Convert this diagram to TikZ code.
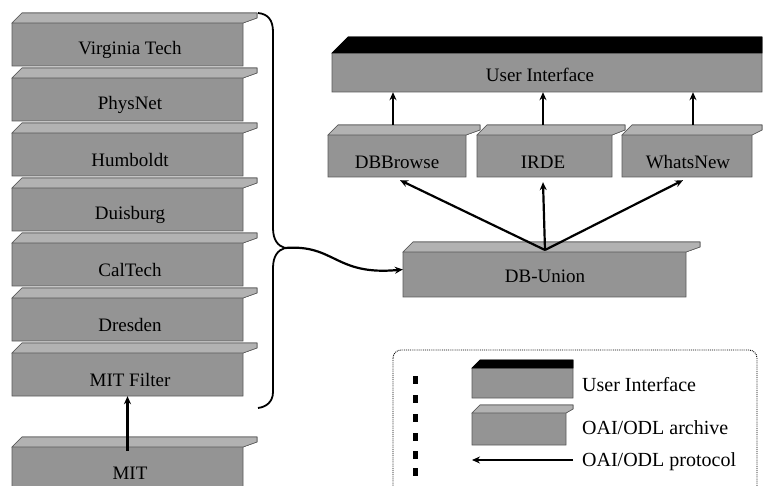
\documentclass[tikz,border=0pt]{standalone}
\usepackage{fontspec}
\setmainfont{Liberation Serif}
\usetikzlibrary{arrows.meta}
\definecolor{slabgray}{gray}{0.58}
\definecolor{lipgray}{gray}{0.70}
\tikzset{
  slabbody/.style={fill=slabgray, draw=black!65, line width=0.6pt},
  graylip/.style={fill=lipgray, draw=black!65, line width=0.6pt},
  blacklip/.style={fill=black, draw=black, line width=0.6pt},
  boxarea/.style={inner sep=0pt, minimum width=#1, draw=none},
  lbl/.style={font=\fontsize{19}{21}\selectfont, inner sep=0pt},
  leglbl/.style={font=\fontsize{20}{22}\selectfont, inner sep=0pt, anchor=west},
  proto/.style={line width=2.2pt, -{Stealth[length=8pt,width=7pt]}},
  bracepath/.style={line width=1.8pt, line join=round},
}
% #1 x0, #2 y0, #3 x1 (body right), #4 x2 (lip right), #5 y1, #6 lip style, #7 depth
\newcommand{\myslab}[7]{%
  \path[slabbody] (#1,#2+#7) -- (#1+#7,#2) -- (#4,#2) -- (#4,#2+#7/2) -- (#3,#2+#7) -- (#3,#5) -- (#1,#5) -- cycle;
  \path[#6] (#1,#2+#7) -- (#1+#7,#2) -- (#4,#2) -- (#4,#2+#7/2) -- (#3,#2+#7) -- cycle;
}
\begin{document}
\begin{tikzpicture}[x=1pt,y=-1pt]
\useasboundingbox (0,0) rectangle (763,486);

% ---------- left stack ----------
\myslab{12}{13}{243}{257}{66}{graylip}{10}
\node[boxarea=231pt, minimum height=53pt] (vt) at (127.5,39.5) {};
\node[lbl] (vt-t) at (130,50) {Virginia Tech};

\myslab{12}{68}{243}{257}{121}{graylip}{10}
\node[boxarea=231pt, minimum height=53pt] (phys) at (127.5,94.5) {};
\node[lbl] (phys-t) at (130,105) {PhysNet};

\myslab{12}{123}{243}{257}{176}{graylip}{10}
\node[boxarea=231pt, minimum height=53pt] (humb) at (127.5,149.5) {};
\node[lbl] (humb-t) at (130,160) {Humboldt};

\myslab{12}{178}{243}{257}{231}{graylip}{10}
\node[boxarea=231pt, minimum height=53pt] (duis) at (127.5,204.5) {};
\node[lbl] (duis-t) at (130,215) {Duisburg};

\myslab{12}{233}{243}{257}{286}{graylip}{10}
\node[boxarea=231pt, minimum height=53pt] (calt) at (127.5,259.5) {};
\node[lbl] (calt-t) at (130,270) {CalTech};

\myslab{12}{288}{243}{257}{341}{graylip}{10}
\node[boxarea=231pt, minimum height=53pt] (dres) at (127.5,314.5) {};
\node[lbl] (dres-t) at (130,325) {Dresden};

\myslab{12}{343}{243}{257}{396}{graylip}{10}
\node[boxarea=231pt, minimum height=53pt] (mitf) at (127.5,369.5) {};
\node[lbl] (mitf-t) at (130,380) {MIT Filter};

\myslab{12}{437}{243}{257}{500}{graylip}{10}
\node[boxarea=231pt, minimum height=63pt] (mit) at (127.5,468.5) {};
\node[lbl] (mit-t) at (130,473) {MIT};

\draw[proto] ([yshift=-14pt]mit.north) -- (mitf.south);

% ---------- brace ----------
\coordinate (btip) at (285,248);
\draw[bracepath] (258,13) .. controls (268,14) and (273,20) .. (273,32)
  -- (273,228) .. controls (273,240) and (278,246) .. (btip)
  .. controls (278,250) and (273,256) .. (273,268)
  -- (273,392) .. controls (273,402) and (266,407) .. (258,408);

% ---------- user interface ----------
\myslab{332}{37}{762}{762}{92}{blacklip}{16}
\node[boxarea=430pt, minimum height=55pt] (ui) at (547,64.5) {};
\node[lbl] (ui-t) at (540,75) {User Interface};

\myslab{328}{125}{466}{480}{177}{graylip}{10}
\node[boxarea=138pt, minimum height=52pt] (dbb) at (397,151) {};
\node[lbl] (dbb-t) at (397,162) {DBBrowse};

\myslab{477}{125}{612}{625}{177}{graylip}{10}
\node[boxarea=135pt, minimum height=52pt] (irde) at (544.5,151) {};
\node[lbl] (irde-t) at (543,162) {IRDE};

\myslab{622}{125}{752}{762}{177}{graylip}{10}
\node[boxarea=130pt, minimum height=52pt] (wn) at (687,151) {};
\node[lbl] (wn-t) at (688,162) {WhatsNew};

\draw[proto] ([xshift=-4pt]dbb.north) -- ([xshift=-4pt]dbb.north |- ui.south);
\draw[proto] ([xshift=-1.5pt]irde.north) -- ([xshift=-1.5pt]irde.north |- ui.south);
\draw[proto] ([xshift=6pt]wn.north) -- ([xshift=6pt]wn.north |- ui.south);

% ---------- DB-Union ----------
\myslab{403}{242}{686}{700}{297}{graylip}{10}
\node[boxarea=283pt, minimum height=55pt] (dbu) at (544.5,269.5) {};
\node[lbl] (dbu-t) at (545,276) {DB-Union};

\coordinate (dbtop) at (545,250);
\draw[proto] (dbtop) -- ([xshift=3pt,yshift=-3pt]dbb.south);
\draw[proto] (dbtop) -- ([xshift=-1.5pt,yshift=-5pt]irde.south);
\draw[proto] (dbtop) -- ([xshift=-4pt,yshift=-3pt]wn.south);

\draw[proto] (btip) .. controls (335,244) and (335,276) .. (dbu.west);

% ---------- legend ----------
\draw[densely dotted, line width=0.9pt, rounded corners=8pt] (393,350) rectangle (757,520);
\foreach \yy in {380,399,418,437,455,472} \fill (413,\yy-4) rectangle (418,\yy+4);

\myslab{472}{360}{573}{573}{398}{blacklip}{8}
\node[boxarea=101pt, minimum height=38pt] (legui) at (522.5,379) {};
\node[leglbl] (legui-t) at (582,385) {User Interface};

\myslab{472}{405}{566}{573}{445}{graylip}{8}
\node[boxarea=94pt, minimum height=40pt] (legarch) at (519,425) {};
\node[leglbl] (legarch-t) at (582,428) {OAI/ODL archive};

\coordinate (legp-a) at (573,460);
\coordinate (legp-b) at (472,460);
\draw[proto, line width=1.6pt] (legp-a) -- (legp-b);
\node[leglbl] (legp-t) at (582,462) {OAI/ODL protocol};
\end{tikzpicture}
\end{document}
